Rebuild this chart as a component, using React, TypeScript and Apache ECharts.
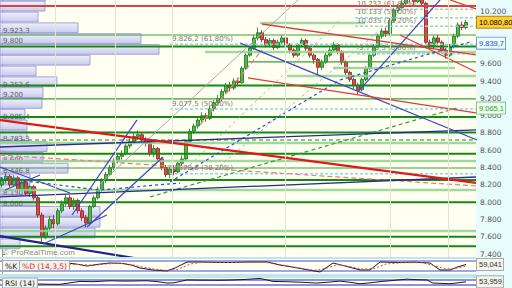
import React, { useEffect, useRef } from 'react';
import * as echarts from 'echarts';

// ---------------- data ----------------
// candles: [open, close, low, high]
const candles: number[][] = [
  [8200, 8250, 8170, 8290], [8250, 8300, 8220, 8340], [8300, 8200, 8170, 8320], [8200, 8280, 8180, 8310],
  [8280, 8150, 8120, 8300], [8150, 8230, 8130, 8260], [8230, 8100, 8080, 8250], [8100, 8180, 8060, 8200],
  [8180, 8050, 8020, 8200], [8050, 7850, 7820, 8070], [7850, 7600, 7540, 7880], [7600, 7700, 7570, 7730],
  [7700, 7800, 7660, 7840], [7800, 7750, 7700, 7850], [7750, 7900, 7730, 7930], [7900, 7980, 7870, 8020],
  [7980, 8050, 7950, 8090], [8050, 7950, 7920, 8080], [7950, 8020, 7910, 8050], [8020, 7900, 7870, 8040],
  [7900, 7820, 7780, 7930], [7820, 7760, 7710, 7850], [7760, 7950, 7740, 7970], [7950, 8050, 7930, 8080],
  [8050, 8150, 8030, 8180], [8150, 8250, 8120, 8280], [8250, 8320, 8220, 8350], [8320, 8400, 8300, 8430],
  [8400, 8480, 8370, 8510], [8480, 8530, 8450, 8570], [8530, 8560, 8490, 8600], [8560, 8650, 8540, 8680],
  [8650, 8700, 8620, 8740], [8700, 8760, 8670, 8800], [8760, 8780, 8720, 8830], [8780, 8720, 8690, 8810],
  [8720, 8680, 8640, 8750], [8680, 8560, 8530, 8700], [8560, 8620, 8520, 8660], [8620, 8500, 8470, 8640],
  [8500, 8400, 8370, 8520], [8400, 8320, 8290, 8430], [8320, 8380, 8280, 8410], [8380, 8350, 8310, 8420],
  [8350, 8450, 8330, 8480], [8450, 8500, 8420, 8540], [8500, 8700, 8480, 8720], [8700, 8820, 8680, 8850],
  [8820, 8880, 8790, 8910], [8880, 8950, 8850, 8980], [8950, 9000, 8920, 9040], [9000, 8970, 8930, 9030],
  [8970, 9080, 8950, 9110], [9080, 9150, 9050, 9180], [9150, 9200, 9120, 9240], [9200, 9280, 9170, 9310],
  [9280, 9350, 9250, 9380], [9350, 9320, 9280, 9390], [9320, 9400, 9300, 9430], [9400, 9380, 9340, 9440],
  [9380, 9550, 9370, 9570], [9550, 9700, 9530, 9720], [9700, 9780, 9680, 9810], [9780, 9900, 9760, 9940],
  [9900, 9960, 9870, 10020], [9960, 9880, 9850, 9990], [9880, 9820, 9790, 9910], [9820, 9870, 9790, 9900],
  [9870, 9790, 9760, 9890], [9790, 9850, 9770, 9880], [9850, 9900, 9820, 9930], [9900, 9820, 9790, 9920],
  [9820, 9760, 9720, 9840], [9760, 9700, 9670, 9780], [9700, 9820, 9680, 9840], [9820, 9870, 9790, 9900],
  [9870, 9780, 9750, 9890], [9780, 9700, 9670, 9800], [9700, 9650, 9600, 9720], [9650, 9560, 9470, 9670],
  [9560, 9620, 9530, 9650], [9620, 9700, 9600, 9730], [9700, 9760, 9680, 9790], [9760, 9820, 9730, 9850],
  [9820, 9740, 9710, 9840], [9740, 9620, 9590, 9760], [9620, 9500, 9470, 9640], [9500, 9420, 9390, 9520],
  [9420, 9350, 9310, 9440], [9350, 9300, 9250, 9380], [9300, 9420, 9280, 9440], [9420, 9550, 9400, 9570],
  [9550, 9700, 9530, 9720], [9700, 9800, 9680, 9830], [9800, 9920, 9780, 9950], [9920, 9980, 9890, 10010],
  [9980, 9950, 9910, 10020], [9950, 10100, 9930, 10130], [10100, 10220, 10080, 10250], [10220, 10250, 10190, 10290],
  [10250, 10300, 10220, 10340], [10300, 10380, 10280, 10420], [10380, 10350, 10310, 10420], [10350, 10320, 10280, 10390],
  [10320, 10400, 10300, 10440], [10400, 10300, 10270, 10420], [10300, 9850, 9820, 10320], [9850, 9800, 9760, 9880],
  [9800, 9900, 9770, 9930], [9900, 9850, 9810, 9940], [9850, 9750, 9720, 9870], [9750, 9700, 9660, 9780],
  [9700, 9800, 9680, 9830], [9800, 9920, 9780, 9950], [9920, 10050, 9900, 10080], [10050, 10020, 9990, 10090],
  [10020, 10080, 10000, 10110],
];
const N_CAT = 119;
const categories = Array.from({ length: N_CAT }, (_, i) => String(i + 1));

const priceTicks = [7400, 7600, 7800, 8000, 8200, 8400, 8600, 8800, 9000, 9200, 9400, 9600, 9800, 10000, 10200];
// labels hidden in the reference behind the price boxes (9.800 and 10.000)
const priceLabelTicks = [7400, 7600, 7800, 8000, 8200, 8400, 8600, 8800, 9000, 9200, 9400, 9600, 10200];
const Y_TOP = 10338.8;
const Y_BOT = 7365.3;

// volume profile (bins of 125 points from 10455 downward)
const PROFILE_TOP = 10455;
const PROFILE_STEP = 125;
const profileVolumes = [46, 45, 38, 78, 141, 159, 90, 36, 57, 43, 42, 25, 27, 27, 47, 43, 68, 30, 30, 37, 100, 100, 95, 20];
const profileLabels = ['', '', '', '9.923,3', '9.800', '', '', '', '9.353,6', '9.200', '', '8.985,4', '', '8.783,3', '', '8.600', '8.446,8', '', '8.150', '8.000', '', '', '', ''];

// horizontal levels
const redLevels = [10270];
const thickGreenLevels = [9800, 9350, 8985, 8805, 8560, 8255, 8000, 7600, 7490];
const thinGreenLevels = [9934, 9195, 8395];
const thinGreenSegments = [[61.25, 118.5, 9622]];
const lightGreenLevels = [8684, 8476, 8141, 7666];
const lightGreenSegments = [[64.5, 90.75, 10073], [50.75, 118.5, 9737], [82.75, 113.25, 9552], [71.25, 118.5, 9460]];
const darkGreenDashedLevels = [8719];
const fibStarts = [42, 42, 42, 88.25, 88.25, 88.25, 88.75];
const fibLevels = [9826.2, 9077.5, 8328.8, 10232, 10133, 10035, 9716.5];
const fibTexts = ['9.826,2 (61,80%)', '9.077,5 (50,00%)', '8.328,8 (38,20%)', '10.232 (61,80%)', '10.133 (50,00%)', '10.035 (38,20%)', '9.716,5 (0,00%)'];

// trend lines: [candle index, price]
const redThickLines = [[[-0.5, 8950], [118.5, 8222]]];
const redLines = [
  [[65, 10061], [118.5, 9703]],
  [[61.5, 9437], [118.5, 9032]],
  [[99.5, 9934], [118.5, 9506]],
  [[112, 10339], [118.5, 10235]],
];
const redDashedLines = [[[-0.5, 8546], [118.5, 8187]], [[49.5, 8893], [65, 9760]]];
const navyThickLines = [[[-0.5, 7608], [40, 7300]]];
const navyLines = [[[-0.5, 8638], [118.5, 8835]], [[-0.5, 8060], [118.5, 8291]]];
const blueLines = [
  [[10.25, 7516], [26.25, 7851]],
  [[17.5, 7851], [33.75, 8951]],
  [[21.25, 7713], [40.25, 8523]],
  [[-0.5, 8407], [17, 8106]],
  [[0.75, 8141], [9.5, 8314]],
  [[59.5, 9841], [118.75, 8719]],
  [[89, 9275], [111, 10417]],
];
const blueDashedLines = [
  [[42, 8233], [84.5, 9413]],
  [[84.5, 9413], [117, 9853]],
  [[-0.5, 8280], [24.5, 8140], [44.5, 8222]],
];
const grayLines = [[[24.5, 8210], [74.5, 10360]]];
const grayDashedLines = [[[47, 8430], [84.5, 10108]], [[53.25, 8372], [94.5, 9992]]];
const greenDashedLines = [[[37, 8060], [113.75, 9089]]];

const monthStarts = [13.25, 28.25, 42.5, 70.75, 97, 111.5];

const lastPrice = 10080.8;
const blueMark = 9839.7;
const greenMark = 9065.1;

// oscillators: [candle index, value]
const kPoints = [[0, 45], [2, 55], [4.5, 50], [7, 35], [9.5, 25], [11.5, 30], [13.25, 35], [15, 55], [16.25, 68], [18.5, 62], [21.25, 50], [24, 60], [27, 68], [30, 66], [32.5, 55], [34.5, 38], [37.75, 26], [41.25, 20], [43.25, 38], [46.25, 74], [49.5, 74], [53, 72], [57, 71], [62, 74], [66.25, 74], [69.5, 56], [72.5, 44], [75.25, 32], [79.5, 14], [82.75, 68], [85.75, 50], [89.5, 26], [92, 26], [94.5, 74], [99.5, 71], [103, 73], [107, 68], [109.5, 26], [112, 26], [114, 45], [116, 59.041]];
const dPoints = [[0, 48], [3, 52], [6, 42], [9, 30], [12, 30], [14.5, 42], [17, 60], [20, 58], [23, 54], [26, 62], [29, 66], [32, 60], [35, 45], [38, 32], [41, 24], [44, 30], [47, 62], [50, 72], [55, 72], [60, 72], [65, 74], [68, 66], [71, 52], [74, 40], [78, 24], [81, 36], [84, 58], [87, 46], [90, 32], [93, 34], [96, 62], [100, 70], [105, 70], [108, 52], [111, 32], [114, 38], [116, 50]];
const rsiPoints = [[0, 50], [3, 45], [6, 48], [9, 35], [11.5, 33], [14.5, 32], [17, 45], [19.5, 57], [23, 55], [27, 63], [31, 60], [36.25, 63], [39, 55], [41.25, 43], [43, 45], [46.25, 70], [50, 68], [54.5, 67], [58, 70], [61, 75], [64.5, 83], [66, 72], [67.75, 57], [71, 55], [75, 50], [78.75, 43], [82, 52], [84.5, 60], [87, 50], [89.5, 37], [92, 45], [94.5, 55], [97, 63], [99, 70], [101.25, 77], [104, 72], [106.25, 70], [107.75, 43], [110, 40], [112, 37], [114, 45], [116, 53.959]];
const kLast = 59.041;
const rsiLast = 53.959;

// ---------------- helpers ----------------
const fmtThousands = (v: number) => {
  const s = String(Math.round(v));
  return s.length > 3 ? s.slice(0, -3) + '.' + s.slice(-3) : s;
};
const FONT = 'DejaVu Sans';

function lineSeries(points: any[], color: string, width: number, type: any = 'solid', opacity = 1, label?: string) {
  const data = points.map((p, i) =>
    i === 0 && label
      ? { value: p, label: { show: true, formatter: label, position: [2, -9], fontSize: 7, color: '#7a7a7a', fontFamily: FONT } }
      : p
  );
  return {
    type: 'line', xAxisIndex: 1, yAxisIndex: 0, data,
    symbol: 'circle', symbolSize: 0, showSymbol: !!label,
    itemStyle: { color: 'transparent' },
    lineStyle: { color, width, type, opacity },
    label: { show: false },
    silent: true, z: 4, clip: true,
  };
}

function boxLabel(text: string, color: string, bg: string, border: string, dy = 0) {
  return {
    show: true, position: 'end', distance: 1, formatter: text, offset: [0, dy],
    color, backgroundColor: bg, borderColor: border, borderWidth: 1,
    padding: [2, 1, 1, 2], fontSize: 7.5, fontFamily: 'Liberation Sans',
  };
}

export default function App() {
  const ref = useRef<HTMLDivElement>(null);
  useEffect(() => {
    if (!ref.current) return;
    const chart = echarts.init(ref.current, undefined, { renderer: 'svg' });

    const S: any[] = [];
    // vertical gridlines
    S.push({
      type: 'line', xAxisIndex: 1, yAxisIndex: 0, data: [[-5, 0]], symbol: 'none', z: 0, silent: true,
      markLine: { silent: true, symbol: ['none', 'none'], label: { show: false }, lineStyle: { color: '#e3e3d3', width: 1, type: 'solid' }, data: monthStarts.map((v) => ({ xAxis: v })) },
    });
    // volume profile
    const profileData = profileVolumes.map((v, i) => [v, PROFILE_TOP - PROFILE_STEP * (i + 1), PROFILE_TOP - PROFILE_STEP * i, i]);
    S.push({
      type: 'custom', xAxisIndex: 2, yAxisIndex: 0, data: profileData, z: 1, silent: true, clip: true,
      encode: { x: 0, y: [1, 2] },
      renderItem: (params: any, api: any) => {
        const vol = api.value(0), lo = api.value(1), hi = api.value(2), idx = api.value(3);
        const a = api.coord([0, hi]);
        const b = api.coord([vol, lo]);
        const children: any[] = [{
          type: 'rect',
          shape: { x: a[0], y: a[1] + 0.5, width: b[0] - a[0], height: b[1] - a[1] - 1 },
          style: {
            fill: new echarts.graphic.LinearGradient(0, 0, 0, 1, [{ offset: 0, color: '#eeeefc' }, { offset: 1, color: '#c4c4ee' }]),
            stroke: '#9a9ad6', lineWidth: 1, opacity: 0.9,
          },
        }];
        const lbl = profileLabels[idx];
        if (lbl) children.push({ type: 'text', x: a[0] + 3, y: b[1] - 2.5, style: { text: lbl, fill: '#666', font: '7px DejaVu Sans', verticalAlign: 'middle', align: 'left' } });
        return { type: 'group', children };
      },
    });
    // candles
    S.push({
      type: 'candlestick', xAxisIndex: 0, yAxisIndex: 0, data: candles, barWidth: 3, z: 3, silent: true,
      itemStyle: { color: '#4cbb4c', color0: '#e04848', borderColor: '#1e6e1e', borderColor0: '#8c2020', borderWidth: 0.8 },
      markLine: {
        silent: true, symbol: ['none', 'none'],
        data: [
          { yAxis: lastPrice, lineStyle: { color: 'transparent', width: 0 }, label: boxLabel('10.080,80', '#000', '#ffcc33', '#b08a10') },
          { yAxis: blueMark, lineStyle: { color: 'transparent', width: 0 }, label: boxLabel('9.839,7', '#2244cc', '#eaffff', '#7d96d6') },
          { yAxis: greenMark, lineStyle: { color: 'transparent', width: 0 }, label: boxLabel('9.065,1', '#2a9a2a', '#efffef', '#8cc88c', -2) },
        ],
      },
    });
    // horizontal levels
    lightGreenLevels.forEach((p) => S.push(lineSeries([[-0.5, p], [118.5, p]], '#8fd18f', 2.5, 'solid', 0.85)));
    lightGreenSegments.forEach(([a, b, p]) => S.push(lineSeries([[a, p], [b, p]], '#8fd18f', 2.5, 'solid', 0.85)));
    thinGreenLevels.forEach((p) => S.push(lineSeries([[-0.5, p], [118.5, p]], '#3a9d3a', 1.2)));
    thinGreenSegments.forEach(([a, b, p]) => S.push(lineSeries([[a, p], [b, p]], '#3a9d3a', 1.2)));
    thickGreenLevels.forEach((p) => S.push(lineSeries([[-0.5, p], [118.5, p]], '#148a14', 2)));
    darkGreenDashedLevels.forEach((p) => S.push(lineSeries([[-0.5, p], [118.5, p]], '#1f8a1f', 1.2, [4, 3])));
    redLevels.forEach((p) => S.push(lineSeries([[-0.5, p], [118.5, p]], '#e04040', 2)));
    fibLevels.forEach((p, i) => S.push(lineSeries([[fibStarts[i], p], [118.5, p]], '#8fd3f0', 1.5, [3, 2], 1, fibTexts[i])));
    // trend lines
    grayLines.forEach((l) => S.push(lineSeries(l, '#a8a8a8', 1)));
    grayDashedLines.forEach((l) => S.push(lineSeries(l, '#b0b0b0', 1, [3, 3])));
    redDashedLines.forEach((l) => S.push(lineSeries(l, '#f07a7a', 1.2, [5, 3])));
    greenDashedLines.forEach((l) => S.push(lineSeries(l, '#3a9a3a', 1.2, [4, 3])));
    blueDashedLines.forEach((l) => S.push(lineSeries(l, '#3344dd', 1.2, [3, 3])));
    navyLines.forEach((l) => S.push(lineSeries(l, '#2a2a90', 1.3)));
    navyThickLines.forEach((l) => S.push(lineSeries(l, '#22228a', 2.2)));
    blueLines.forEach((l) => S.push(lineSeries(l, '#3a46c4', 1.2)));
    redLines.forEach((l) => S.push(lineSeries(l, '#e03a3a', 1.3)));
    redThickLines.forEach((l) => S.push(lineSeries(l, '#e01818', 2.2)));

    // oscillators
    S.push({
      type: 'line', xAxisIndex: 3, yAxisIndex: 1, data: kPoints, symbol: 'none', z: 5, silent: true,
      lineStyle: { color: '#1a1a1a', width: 1 },
      markLine: {
        silent: true, symbol: ['none', 'none'], label: { show: false },
        data: [
          { yAxis: 100, lineStyle: { color: '#bfe6f0', width: 2, type: 'solid' } },
          { yAxis: 0, lineStyle: { color: '#bfe6f0', width: 2, type: 'solid' } },
          { yAxis: 80, lineStyle: { color: '#a4a4e8', width: 2, type: 'solid' } },
          { yAxis: 20, lineStyle: { color: '#a4a4e8', width: 2, type: 'solid' } },
          { yAxis: kLast, lineStyle: { color: 'transparent', width: 0 }, label: boxLabel('59,041', '#333', '#f4f4ec', '#aaa') },
        ],
      },
    });
    S.push({ type: 'line', xAxisIndex: 3, yAxisIndex: 1, data: dPoints, symbol: 'none', z: 6, silent: true, lineStyle: { color: '#e04848', width: 1, type: [2, 2] } });
    S.push({
      type: 'line', xAxisIndex: 4, yAxisIndex: 2, data: rsiPoints, symbol: 'none', z: 5, silent: true,
      lineStyle: { color: '#1a1a1a', width: 1 },
      markLine: {
        silent: true, symbol: ['none', 'none'], label: { show: false },
        data: [
          { yAxis: 100, lineStyle: { color: '#bfe6f0', width: 2, type: 'solid' } },
          { yAxis: 70, lineStyle: { color: '#6a6ad8', width: 1.5, type: 'solid' } },
          { yAxis: 30, lineStyle: { color: '#6a6ad8', width: 1.5, type: 'solid' } },
          { yAxis: rsiLast, lineStyle: { color: 'transparent', width: 0 }, label: boxLabel('53,959', '#333', '#f4f4ec', '#aaa') },
        ],
      },
    });

    const hiddenY = (gi: number) => ({
      type: 'value', gridIndex: gi, min: 0, max: 100, position: 'right',
      axisLine: { show: true, lineStyle: { color: '#999' } }, axisTick: { show: false }, axisLabel: { show: false }, splitLine: { show: false },
    });

    const option: any = {
      animation: false,
      backgroundColor: '#e8fcfc',
      textStyle: { fontFamily: FONT },
      grid: [
        { left: 0, top: 0, width: 476, height: 257, show: true, backgroundColor: '#fffff2', borderWidth: 0 },
        { left: 0, top: 257.7, width: 476, height: 16.6, show: true, backgroundColor: '#fffff2', borderWidth: 0 },
        { left: 0, top: 276.5, width: 476, height: 15, show: true, backgroundColor: '#fffff2', borderWidth: 0 },
      ],
      xAxis: [
        { type: 'category', gridIndex: 0, data: categories, boundaryGap: true, show: false },
        { type: 'value', gridIndex: 0, min: -0.5, max: N_CAT - 0.5, show: false },
        { type: 'value', gridIndex: 0, min: 0, max: 476, show: false },
        { type: 'value', gridIndex: 1, min: -0.5, max: N_CAT - 0.5, show: false },
        { type: 'value', gridIndex: 2, min: -0.5, max: N_CAT - 0.5, show: false },
      ],
      yAxis: [
        {
          type: 'value', gridIndex: 0, min: Y_BOT, max: Y_TOP, position: 'right', scale: true,
          axisLine: { show: true, lineStyle: { color: '#999' } },
          axisTick: { show: true, length: 3, lineStyle: { color: '#888' }, customValues: priceTicks },
          axisLabel: { show: true, fontSize: 7.5, color: '#555', margin: 4, fontFamily: FONT, customValues: priceLabelTicks, formatter: (v: number) => fmtThousands(v) },
          splitLine: { show: false },
        },
        hiddenY(1),
        hiddenY(2),
      ],
      graphic: [
        { type: 'text', left: 3, top: 248, z: 100, style: { text: '© ProRealTime.com', fill: '#8a8a8a', font: '8px Liberation Sans' } },
        { type: 'text', left: 2, top: 260, z: 100, style: { text: '%K', fill: '#222', font: '7.5px DejaVu Sans', backgroundColor: '#f2f2ee', borderColor: '#aaa', borderWidth: 1, padding: [1, 2, 0, 2] } },
        { type: 'text', left: 19, top: 260, z: 100, style: { text: '%D (14,3,5)', fill: '#e03030', font: '7.5px DejaVu Sans', backgroundColor: '#f2f2ee', borderColor: '#aaa', borderWidth: 1, padding: [1, 2, 0, 2] } },
        { type: 'text', left: 2, top: 277.5, z: 100, style: { text: 'RSI (14)', fill: '#222', font: '7.5px DejaVu Sans', backgroundColor: '#f2f2ee', borderColor: '#aaa', borderWidth: 1, padding: [1, 2, 0, 2] } },
      ],
      series: S,
    };
    chart.setOption(option);
    return () => chart.dispose();
  }, []);
  return <div ref={ref} style={{ position: 'fixed', left: 0, top: 0, width: 512, height: 288 }} />;
}
